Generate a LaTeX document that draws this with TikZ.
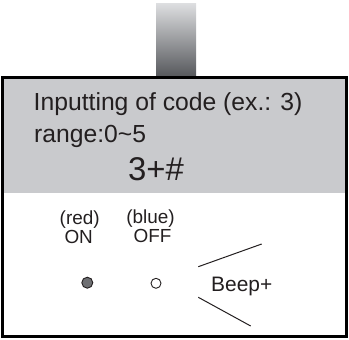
\documentclass[tikz,border=0pt]{standalone}
\usepackage{fontspec}
\setmainfont{Liberation Sans}
\usetikzlibrary{positioning}
\definecolor{panelgray}{HTML}{C9CACD}
\definecolor{inkgray}{HTML}{231F20}
\definecolor{ledgray}{HTML}{6E6F72}
\definecolor{bartop}{HTML}{DEDFE1}
\definecolor{barbottom}{HTML}{55575B}

\begin{document}
\begin{tikzpicture}[
    x=1bp, y=-1bp,
    lcd/.style={inner sep=0pt, text=inkgray, anchor=base west},
    ledtag/.style={inner sep=0pt, text=inkgray, anchor=base, font=\fontsize{19}{21}\selectfont},
    led/.style={circle, draw=inkgray, line width=0.9bp, inner sep=0pt},
    wire/.style={draw=inkgray, line width=1bp}
]
\useasboundingbox (0,0) rectangle (349,340);
% cable
\shade[top color=bartop, bottom color=barbottom] (156,3) rectangle (196,77);
% housing and display
\fill[panelgray] (2.8,77.5) rectangle (346.7,193.3);
\draw[line width=2.6bp] (2.8,77.5) rectangle (346.7,336.7);
\node[lcd, font=\fontsize{24.8}{27}\selectfont] (prompt) at (33.5,110) {Inputting of code (ex.: 3)};
\node[lcd, font=\fontsize{24.8}{27}\selectfont] (range) at (34,142) {range:0\textasciitilde 5};
\node[lcd, font=\fontsize{33}{35}\selectfont] (entry) at (128,180) {3+\#};
% indicators
\node[ledtag] (redtag) at (79.7,224) {(red)};
\node[ledtag] (ontag) at (78.7,243.5) {ON};
\node[ledtag] (bluetag) at (150.5,223.5) {(blue)};
\node[ledtag] (offtag) at (152.5,242.5) {OFF};
\node[led, fill=ledgray, minimum size=11bp] (onled) at (87.3,282.7) {};
\node[led, fill=white, minimum size=10bp] (offled) at (156,283.3) {};
% buzzer
\node[lcd, font=\fontsize{21}{23}\selectfont] (beep) at (211,291) {Beep+};
\coordinate (upin) at (198.3,266.7);
\coordinate (upout) at (261.7,244);
\coordinate (lowin) at (198.3,297.3);
\coordinate (lowout) at (250.7,326);
\draw[wire] (upin) -- (upout);
\draw[wire] (lowin) -- (lowout);
\end{tikzpicture}
\end{document}
